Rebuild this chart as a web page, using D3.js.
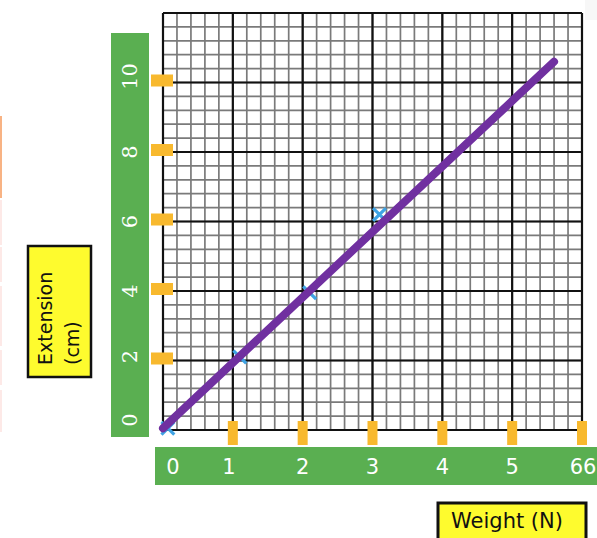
<!DOCTYPE html>
<html>
<head>
<meta charset="utf-8">
<script src="https://cdn.jsdelivr.net/npm/d3@7/dist/d3.min.js"></script>
<style>
  html, body { margin: 0; padding: 0; background: #fff; }
  svg { display: block; }
</style>
</head>
<body>
<script>
// ---- data ----
const xTicks = [0, 1, 2, 3, 4, 5, 6];
const xTickLabels = ["0", "1", "2", "3", "4", "5", "66"];
const yTicks = [0, 2, 4, 6, 8, 10];
const yTickLabels = ["0", "2", "4", "6", "8", "10"];
const pointWeight = [0.07, 1.1, 2.1, 3.1];
const pointExtension = [0.05, 2.1, 3.95, 6.2];
const lineWeight = [0, 5.6];
const lineExtension = [0.05, 10.6];
const xAxisTitle = "Weight (N)";
const yAxisTitle = ["Extension", "(cm)"];

// ---- layout ----
const W = 597, H = 538;
const svg = d3.select("body").append("svg").attr("width", W).attr("height", H);

const x = d3.scaleLinear().domain([0, 6]).range([163, 582]);
const y = d3.scaleLinear().domain([0, 12]).range([430, 13]);

const green = "#5aaf51", orange = "#f8b92e", yellow = "#fefb2e";

// left edge artefacts
svg.append("rect").attr("x", 0).attr("y", 116).attr("width", 2).attr("height", 82).attr("fill", "#f8b384");
[[200, 45], [247, 35], [286, 60], [350, 35], [390, 42]].forEach(([yy, hh]) =>
  svg.append("rect").attr("x", 0).attr("y", yy).attr("width", 2).attr("height", hh).attr("fill", "#fde9e7"));
// faint top-right shade
svg.append("rect").attr("x", 585).attr("y", 0).attr("width", 12).attr("height", 20).attr("fill", "#f7f7f7");

// grid
const grid = svg.append("g");
const minorX = d3.range(0, 6.0001, 0.2);
const minorY = d3.range(0, 12.0001, 0.4);
grid.selectAll("line.mx").data(minorX).join("line")
  .attr("x1", d => x(d)).attr("x2", d => x(d)).attr("y1", y(12)).attr("y2", y(0))
  .attr("stroke", "#7a7a7a").attr("stroke-width", 1.7);
grid.selectAll("line.my").data(minorY).join("line")
  .attr("y1", d => y(d)).attr("y2", d => y(d)).attr("x1", x(0)).attr("x2", x(6))
  .attr("stroke", "#7a7a7a").attr("stroke-width", 1.7);
grid.selectAll("line.Mx").data(d3.range(0, 6.0001, 1)).join("line")
  .attr("x1", d => x(d)).attr("x2", d => x(d)).attr("y1", y(12)).attr("y2", y(0))
  .attr("stroke", "#111").attr("stroke-width", 2.2);
grid.selectAll("line.My").data(d3.range(0, 12.0001, 2)).join("line")
  .attr("y1", d => y(d)).attr("y2", d => y(d)).attr("x1", x(0)).attr("x2", x(6))
  .attr("stroke", "#111").attr("stroke-width", 2.2);

// y-axis green bar
svg.append("rect").attr("x", 111).attr("y", 33).attr("width", 38).attr("height", 404).attr("fill", green);
const yLabelNudge = [-10, -4, 0, 0, 0, -6];
svg.selectAll("text.yl").data(yTicks).join("text")
  .attr("transform", (d, i) => `translate(137,${y(d) + yLabelNudge[i]}) rotate(-90)`)
  .attr("text-anchor", "middle")
  .attr("font-family", "DejaVu Serif, serif").attr("font-size", 21)
  .attr("fill", "#fff")
  .text((d, i) => yTickLabels[i]);
// y orange ticks
svg.selectAll("rect.yt").data(yTicks.filter(d => d > 0)).join("rect")
  .attr("x", 151).attr("y", d => y(d) - 8).attr("width", 22).attr("height", 12)
  .attr("fill", orange);

// x-axis green bar
svg.append("rect").attr("x", 155).attr("y", 447).attr("width", W - 155).attr("height", 38).attr("fill", green);
const xLabelNudge = [10, -4, 0, 0, 0, 0, 1];
svg.selectAll("text.xl").data(xTicks).join("text")
  .attr("x", (d, i) => x(d) + xLabelNudge[i]).attr("y", 474)
  .attr("text-anchor", "middle")
  .attr("font-family", "DejaVu Sans, sans-serif").attr("font-size", 21)
  .attr("fill", "#fff")
  .text((d, i) => xTickLabels[i]);
// x orange ticks
svg.selectAll("rect.xt").data(xTicks.filter(d => d > 0)).join("rect")
  .attr("x", d => x(d) - 5).attr("y", 421).attr("width", 10).attr("height", 24)
  .attr("fill", orange);

// data crosses
const pts = pointWeight.map((w, i) => [w, pointExtension[i]]);
const sym = d3.symbol().type(d3.symbolTimes || d3.symbolX).size(110);
svg.selectAll("path.pt").data(pts).join("path")
  .attr("transform", d => `translate(${x(d[0])},${y(d[1])})`)
  .attr("d", sym)
  .attr("fill", "none").attr("stroke", "#3fa3e4").attr("stroke-width", 3.2);

// best-fit line
const line = d3.line().x(d => x(d[0])).y(d => y(d[1]));
svg.append("path")
  .datum(lineWeight.map((w, i) => [w, lineExtension[i]]))
  .attr("d", line)
  .attr("fill", "none").attr("stroke", "#7030a0").attr("stroke-width", 8)
  .attr("stroke-linecap", "round");

// y axis title box
svg.append("rect").attr("x", 28).attr("y", 246).attr("width", 63).attr("height", 131)
  .attr("fill", yellow).attr("stroke", "#111").attr("stroke-width", 2.5);
const yt = svg.append("text")
  .attr("transform", "translate(52,365) rotate(-90)")
  .attr("font-family", "DejaVu Sans, sans-serif").attr("font-size", 19).attr("fill", "#111");
yt.selectAll("tspan").data(yAxisTitle).join("tspan")
  .attr("x", 0).attr("dy", (d, i) => i === 0 ? 0 : 27)
  .text(d => d);

// x axis title box
svg.append("rect").attr("x", 438).attr("y", 503).attr("width", 148).attr("height", 45)
  .attr("fill", yellow).attr("stroke", "#111").attr("stroke-width", 3);
svg.append("text").attr("x", 507).attr("y", 528)
  .attr("text-anchor", "middle")
  .attr("font-family", "DejaVu Sans, sans-serif").attr("font-size", 21).attr("fill", "#111")
  .text(xAxisTitle);
</script>
</body>
</html>
